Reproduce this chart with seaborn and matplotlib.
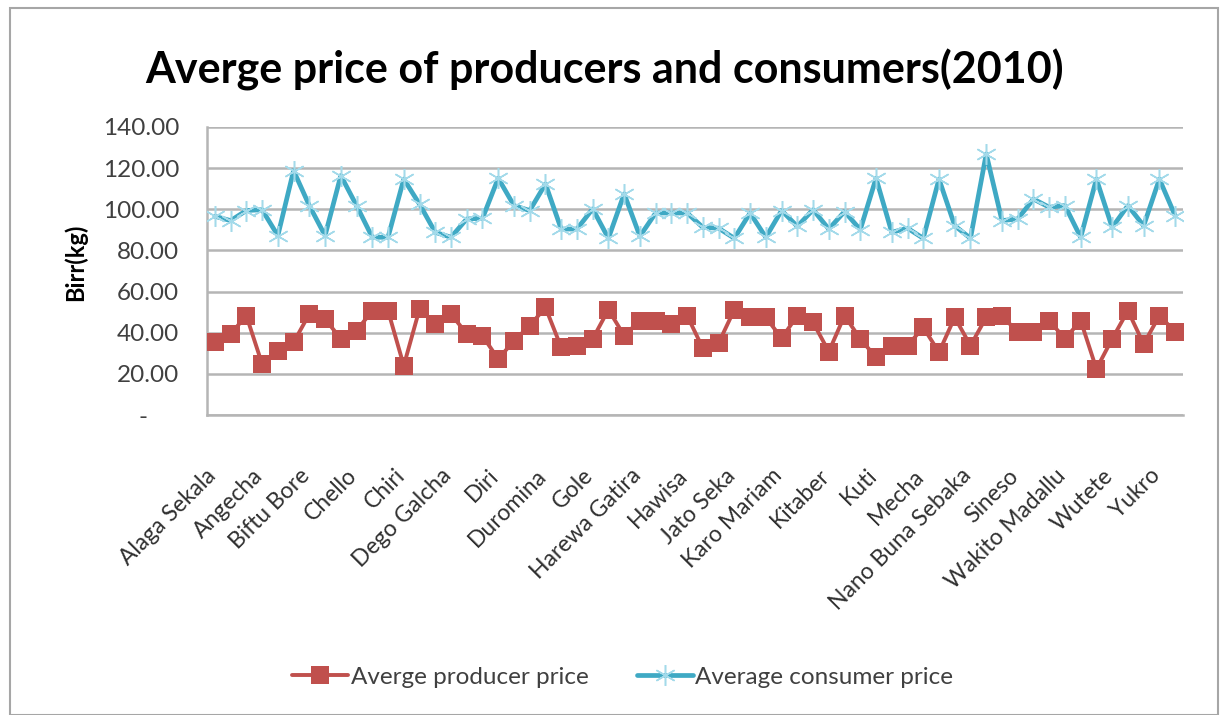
import numpy as np
import pandas as pd
import matplotlib
matplotlib.use("Agg")
import matplotlib.pyplot as plt
import matplotlib.transforms as mtransforms
import seaborn as sns
from matplotlib.patches import Rectangle
from matplotlib.ticker import FuncFormatter

# Market names shown on the axis (every third market is labelled)
tick_labels = ["Alaga Sekala", "Angecha", "Biftu Bore", "Chello", "Chiri",
               "Dego Galcha", "Diri", "Duromina", "Gole", "Harewa Gatira",
               "Hawisa", "Jato Seka", "Karo Mariam", "Kitaber", "Kuti",
               "Mecha", "Nano Buna Sebaka", "Sineso", "Wakito Madallu",
               "Wutete", "Yukro"]

# Average producer price per market (Birr/kg)
producer_price = [35.3, 39.4, 48.3, 24.8, 31.3, 35.3, 49.1, 46.7, 37.0, 41.0,
                  50.7, 50.7, 24.0, 51.5, 44.2, 49.0, 39.5, 38.5, 27.2, 36.1,
                  43.4, 52.3, 32.9, 33.7, 37.0, 51.2, 38.6, 45.9, 45.9, 44.2,
                  48.3, 32.4, 35.0, 51.2, 47.5, 47.5, 37.3, 48.3, 45.0, 30.8,
                  48.3, 37.0, 28.0, 33.4, 33.7, 42.6, 30.5, 47.5, 33.7, 47.5,
                  48.3, 40.2, 40.2, 45.9, 37.0, 45.9, 22.4, 37.0, 50.7, 34.5,
                  48.3, 40.5]

# Average consumer price per market (Birr/kg)
consumer_price = [96.6, 94.5, 99.4, 99.8, 87.2, 118.8, 101.8, 87.2, 116.4, 101.8,
                  86.4, 86.4, 114.7, 102.5, 88.8, 86.4, 95.3, 95.6, 115.1, 101.8,
                  99.4, 112.3, 90.4, 90.4, 100.2, 85.9, 107.5, 86.9, 98.2, 98.2,
                  98.2, 91.2, 90.8, 85.9, 98.2, 86.4, 99.4, 91.7, 99.8, 90.4,
                  98.9, 90.1, 115.1, 88.8, 90.8, 85.9, 114.7, 92.0, 85.9, 126.9,
                  94.5, 95.3, 105.0, 101.0, 101.8, 86.4, 114.7, 91.2, 101.8, 92.0,
                  114.7, 96.9]

yticks = [0, 20, 40, 60, 80, 100, 120, 140]

market_idx = np.arange(len(producer_price))
df = pd.DataFrame({"market": market_idx,
                   "producer": producer_price,
                   "consumer": consumer_price})

sns.set_theme(style="white")
plt.rcParams["font.family"] = ["Lato", "DejaVu Sans"]

W, H = 1226, 715
fig = plt.figure(figsize=(W / 100, H / 100), dpi=100)
ax = fig.add_axes([207 / W, 1 - 415 / H, (1183 - 207) / W, (415 - 127) / H])

red = "#C0504D"
cyan = "#3FA9C4"

sns.lineplot(data=df, x="market", y="producer", ax=ax, color=red, lw=2.8,
             marker="s", markersize=12.5, markeredgewidth=0, markerfacecolor=red,
             label="Averge producer price", zorder=3)
sns.lineplot(data=df, x="market", y="consumer", ax=ax, color=cyan, lw=3.4,
             marker=(6, 2, 0), markersize=15, markeredgewidth=1.1,
             markeredgecolor="#A3DAEA", label="Average consumer price", zorder=3)

ax.set_xlim(-0.5, len(producer_price) - 0.5)
ax.set_ylim(0, 140)
ax.set_yticks(yticks)
ax.yaxis.set_major_formatter(FuncFormatter(
    lambda v, p: "-     " if v == 0 else f"{v:.2f}"))
ax.yaxis.grid(True, color="#B5B5B5", lw=1.8)
ax.xaxis.grid(False)
ax.set_xticks(market_idx[::3])
ax.set_xticklabels(tick_labels, rotation=45, ha="right", rotation_mode="anchor")
ax.tick_params(axis="y", length=0, pad=20, labelsize=17.5, labelcolor="#404040")
ax.tick_params(axis="x", length=0, pad=36, labelsize=16.5, labelcolor="#303030")
shift = mtransforms.ScaledTranslation(-10 / 100, 0, fig.dpi_scale_trans)
for lbl in ax.get_xticklabels():
    lbl.set_transform(lbl.get_transform() + shift)
ax.set_xlabel("")
ax.set_ylabel("")
for side in ["top", "right"]:
    ax.spines[side].set_visible(False)
ax.spines["left"].set_color("#B5B5B5")
ax.spines["left"].set_linewidth(1.8)
ax.spines["bottom"].set_color("#B5B5B5")
ax.spines["bottom"].set_linewidth(1.8)

ax.get_legend().remove()
handles, labels = ax.get_legend_handles_labels()
fig.legend(handles, labels, loc="center", bbox_to_anchor=(0.508, 1 - 677 / H),
           ncol=2, frameon=False, fontsize=17.5, handlelength=2.3,
           handletextpad=0.1, columnspacing=2.0, labelcolor="#404040")

fig.text(605 / W, 1 - 70 / H, "Averge price of producers and consumers(2010)",
         ha="center", va="center", fontsize=31, fontweight="bold", color="black")
fig.text(75 / W, 1 - 262 / H, "Birr(kg)", rotation=90, ha="center", va="center",
         fontsize=17, fontweight="bold", color="black")

fig.patches.append(Rectangle((10 / W, 0), (1218 - 10) / W, 1 - 8 / H,
                             transform=fig.transFigure, fill=False,
                             edgecolor="#A6A6A6", lw=1.5))

fig.savefig("out.png", dpi=100)
